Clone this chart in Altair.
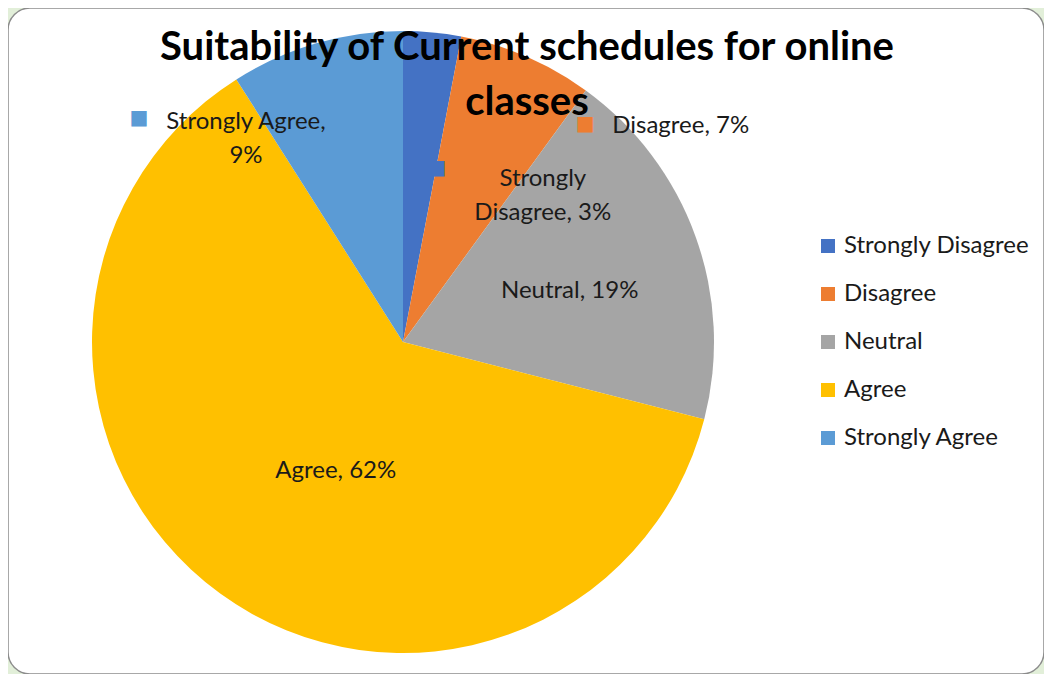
import altair as alt
import pandas as pd

# ---- data ----
categories = ["Strongly Disagree", "Disagree", "Neutral", "Agree", "Strongly Agree"]
percentages = [3, 7, 19, 62, 9]
slice_labels = ["Strongly\nDisagree, 3%", "Disagree, 7%", "Neutral, 19%", "Agree, 62%", "Strongly Agree,\n9%"]
colors = ["#4472C4", "#ED7D31", "#A5A5A5", "#FFC000", "#5B9BD5"]
title_text = "Suitability of Current schedules for online\nclasses"

df = pd.DataFrame({
    "category": categories,
    "value": percentages,
    "order": list(range(len(categories))),
    "label": slice_labels,
    "marker": ["\u25A0"] * len(categories),
})

FONT = "Lato"
CX, CY = 395, 334      # pie centre inside the chart
R = 311                # pie radius

color_scale = alt.Scale(domain=categories, range=colors)

base = alt.Chart(df)

pie = base.mark_arc(radius=R, stroke=None).encode(
    theta=alt.Theta("value:Q", stack=True),
    order=alt.Order("order:Q"),
    color=alt.Color(
        "category:N",
        scale=color_scale,
        sort=categories,
        legend=alt.Legend(
            title=None,
            orient="none",
            legendX=808,
            legendY=226,
            symbolType="square",
            symbolSize=196,
            symbolStrokeWidth=0,
            labelFont=FONT,
            labelFontSize=24,
            labelColor="#1a1a1a",
            labelOffset=4,
            labelLimit=400,
            rowPadding=24,
            padding=0,
        ),
    ),
    x=alt.value(CX),
    y=alt.value(CY),
)

stacked = base.transform_stack(
    stack="value", groupby=[], as_=["v0", "v1"], sort=[alt.SortField("order")]
).transform_calculate(mid="(datum.v0 + datum.v1) / 2")


def label_layer(cat, radius, dx, dy, align="center"):
    return stacked.transform_filter(alt.datum.category == cat).mark_text(
        radius=radius, dx=dx, dy=dy, align=align, baseline="middle",
        font=FONT, fontSize=24, color="#1a1a1a", lineBreak="\n", lineHeight=34,
    ).encode(
        theta=alt.Theta("mid:Q", scale=alt.Scale(domain=[0, 100])),
        text="label:N",
        x=alt.value(CX),
        y=alt.value(CY),
    )


def marker_layer(cat, radius, dx, dy):
    return stacked.transform_filter(alt.datum.category == cat).mark_text(
        radius=radius, dx=dx, dy=dy, align="center", baseline="middle",
        font="DejaVu Sans", fontSize=20,
    ).encode(
        theta=alt.Theta("mid:Q", scale=alt.Scale(domain=[0, 100])),
        text="marker:N",
        color=alt.Color("category:N", scale=color_scale, legend=None),
        x=alt.value(CX),
        y=alt.value(CY),
    )


labels = [
    label_layer("Strongly Disagree", 200, 121, 36),
    label_layer("Disagree", 260, 106, 23, align="left"),
    label_layer("Neutral", 175, 2, 8),
    label_layer("Agree", 145, 18, 12),
    label_layer("Strongly Agree", 258, -85, 28),
]
markers = [
    marker_layer("Strongly Disagree", 200, 15, 25),
    marker_layer("Disagree", 260, 79, 21),
    marker_layer("Strongly Agree", 258, -192, 24),
]

title = alt.Chart(pd.DataFrame({"t": [title_text]})).mark_text(
    font=FONT, fontSize=40, fontWeight="bold", color="#000000",
    align="center", baseline="alphabetic", lineBreak="\n", lineHeight=55,
).encode(text="t:N", x=alt.value(519), y=alt.value(52))

chart = alt.layer(pie, *labels, *markers, title).resolve_scale(
    theta="independent"
).properties(
    width=1036,
    height=666,
    padding=0,
    autosize=alt.AutoSizeParams(type="fit", contains="padding"),
    background="#e2efd9",
).configure_view(
    fill="white", stroke="#8c8c8c", strokeWidth=1.5, cornerRadius=22
)

chart.save("out.html", embed_options={"renderer": "svg", "actions": False})
